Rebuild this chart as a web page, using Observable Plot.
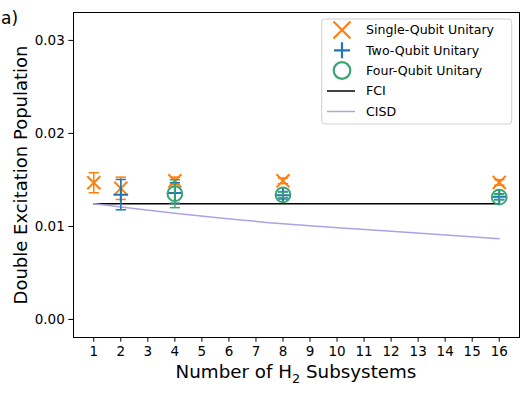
<!DOCTYPE html>
<html>
<head>
<meta charset="utf-8">
<script src="https://cdn.jsdelivr.net/npm/d3@7"></script>
<script src="https://cdn.jsdelivr.net/npm/@observablehq/plot@0.6"></script>
<style>
  html, body { margin: 0; padding: 0; background: white; }
  svg { display: block; }
</style>
</head>
<body>
<div id="chart"></div>
<script>
// ---- data ----
const xTicks = [1,2,3,4,5,6,7,8,9,10,11,12,13,14,15,16];
const yTicks = [0, 0.01, 0.02, 0.03];

const singleX = [1, 2, 4, 8, 16];
const singleY = [0.0147, 0.0141, 0.0149, 0.0149, 0.01473];
const singleErr = [0.00108, 0.0012, 0.0004, 0.0003, 0.0003];

const twoX = [2, 4, 8, 16];
const twoY = [0.01342, 0.0136, 0.01335, 0.0132];
const twoErr = [0.00163, 0.0011, 0.0004, 0.0003];

const fourX = [4, 8, 16];
const fourY = [0.01352, 0.0134, 0.01315];
const fourErr = [0.0015, 0.0003, 0.0003];

const fciX = [1, 16];
const fciY = [0.01244, 0.01244];

const cisdX = [1, 2, 4, 8, 12, 16];
const cisdY = [0.01244, 0.01208, 0.01143, 0.01029, 0.00949, 0.00867];

const seriesNames = ["Single-Qubit Unitary", "Two-Qubit Unitary", "Four-Qubit Unitary", "FCI", "CISD"];

// ---- build tables ----
const mk = (xs, ys, es) => xs.map((x, i) => ({x, y: ys[i], e: es ? es[i] : 0}));
const single = mk(singleX, singleY, singleErr);
const two = mk(twoX, twoY, twoErr);
const four = mk(fourX, fourY, fourErr);
const fci = mk(fciX, fciY);
const cisd = mk(cisdX, cisdY);

const C_OR = "#ff7f0e", C_BL = "#1f77b4", C_GR = "#3aa672", C_CI = "#ada2e3";
const capW = 0.19;

function errMarks(data, color) {
  return [
    Plot.ruleX(data, {x: "x", y1: d => d.y - d.e, y2: d => d.y + d.e, stroke: color, strokeWidth: 1.5}),
    Plot.link(data, {x1: d => d.x - capW, x2: d => d.x + capW, y1: d => d.y + d.e, y2: d => d.y + d.e, stroke: color, strokeWidth: 1.5}),
    Plot.link(data, {x1: d => d.x - capW, x2: d => d.x + capW, y1: d => d.y - d.e, y2: d => d.y - d.e, stroke: color, strokeWidth: 1.5})
  ];
}

const plot = Plot.plot({
  width: 531,
  height: 396,
  marginLeft: 73,
  marginRight: 12,
  marginTop: 12,
  marginBottom: 59,
  style: {fontFamily: "DejaVu Sans", fontSize: "13.5px", color: "black", background: "white"},
  x: {domain: [0.25, 16.75], label: null},
  y: {domain: [-0.00194, 0.0330], label: null},
  marks: [
    Plot.axisX({ticks: xTicks, tickFormat: d => String(d), tickSize: 4.7, tickPadding: 4, label: null, fontSize: 13.5}),
    Plot.axisY({ticks: yTicks, tickFormat: d3.format(".2f"), tickSize: 4.7, tickPadding: 4, label: null, fontSize: 13.5}),
    Plot.line(fci, {x: "x", y: "y", stroke: "black", strokeWidth: 1.5}),
    Plot.line(cisd, {x: "x", y: "y", stroke: C_CI, strokeWidth: 1.5, curve: "monotone-x"}),
    ...errMarks(single, C_OR),
    Plot.dot(single, {x: "x", y: "y", symbol: "times", r: 6, stroke: C_OR, strokeWidth: 2}),
    ...errMarks(two, C_BL),
    Plot.dot(two, {x: "x", y: "y", symbol: "plus", r: 4.8, stroke: C_BL, strokeWidth: 2}),
    ...errMarks(four, C_GR),
    Plot.dot(four, {x: "x", y: "y", symbol: "circle", r: 7.4, stroke: C_GR, strokeWidth: 2, fill: "none"}),
    Plot.frame({stroke: "black", strokeWidth: 1})
  ]
});

document.getElementById("chart").appendChild(plot);

// ---- annotations: axis titles, panel tag, legend ----
const svg = d3.select(plot);
const font = "DejaVu Sans";

svg.append("text").attr("x", 1).attr("y", 24).attr("text-anchor", "start")
  .attr("font-family", font).attr("font-size", 17).attr("fill", "black").text("a)");

const xl = svg.append("text").attr("x", 296).attr("y", 378).attr("text-anchor", "middle")
  .attr("font-family", font).attr("font-size", 18.3).attr("fill", "black");
xl.append("tspan").text("Number of H");
xl.append("tspan").attr("font-size", 12.8).attr("dy", 4.5).text("2");
xl.append("tspan").attr("dy", -4.5).text(" Subsystems");

svg.append("text").attr("transform", "translate(27,175) rotate(-90)").attr("text-anchor", "middle")
  .attr("font-family", font).attr("font-size", 18).attr("fill", "black")
  .text("Double Excitation Population");

const lg = svg.append("g");
lg.append("rect").attr("x", 321.7).attr("y", 19).attr("width", 190).attr("height", 105).attr("rx", 3)
  .attr("fill", "white").attr("fill-opacity", 0.8).attr("stroke", "#d0d0d0").attr("stroke-width", 1);
const rowY = [30, 50.3, 70.5, 91, 111.5];
const mx = 342, tx = 366;
// times
lg.append("path").attr("d", `M${mx-8.5},${rowY[0]-8.5}L${mx+8.5},${rowY[0]+8.5}M${mx-8.5},${rowY[0]+8.5}L${mx+8.5},${rowY[0]-8.5}`)
  .attr("stroke", C_OR).attr("stroke-width", 2.2).attr("fill", "none");
// plus
lg.append("path").attr("d", `M${mx-8},${rowY[1]}L${mx+8},${rowY[1]}M${mx},${rowY[1]-8}L${mx},${rowY[1]+8}`)
  .attr("stroke", C_BL).attr("stroke-width", 2.2).attr("fill", "none");
// circle
lg.append("circle").attr("cx", mx).attr("cy", rowY[2]).attr("r", 8.3)
  .attr("stroke", C_GR).attr("stroke-width", 2.2).attr("fill", "none");
lg.append("line").attr("x1", 327).attr("x2", 355).attr("y1", rowY[3]).attr("y2", rowY[3]).attr("stroke", "black").attr("stroke-width", 1.5);
lg.append("line").attr("x1", 327).attr("x2", 355).attr("y1", rowY[4]).attr("y2", rowY[4]).attr("stroke", C_CI).attr("stroke-width", 1.5);
seriesNames.forEach((name, i) => {
  lg.append("text").attr("x", tx).attr("y", rowY[i]).attr("dy", "0.35em").attr("text-anchor", "start")
    .attr("font-family", font).attr("font-size", 12.6).attr("fill", "black").text(name);
});
</script>
</body>
</html>
